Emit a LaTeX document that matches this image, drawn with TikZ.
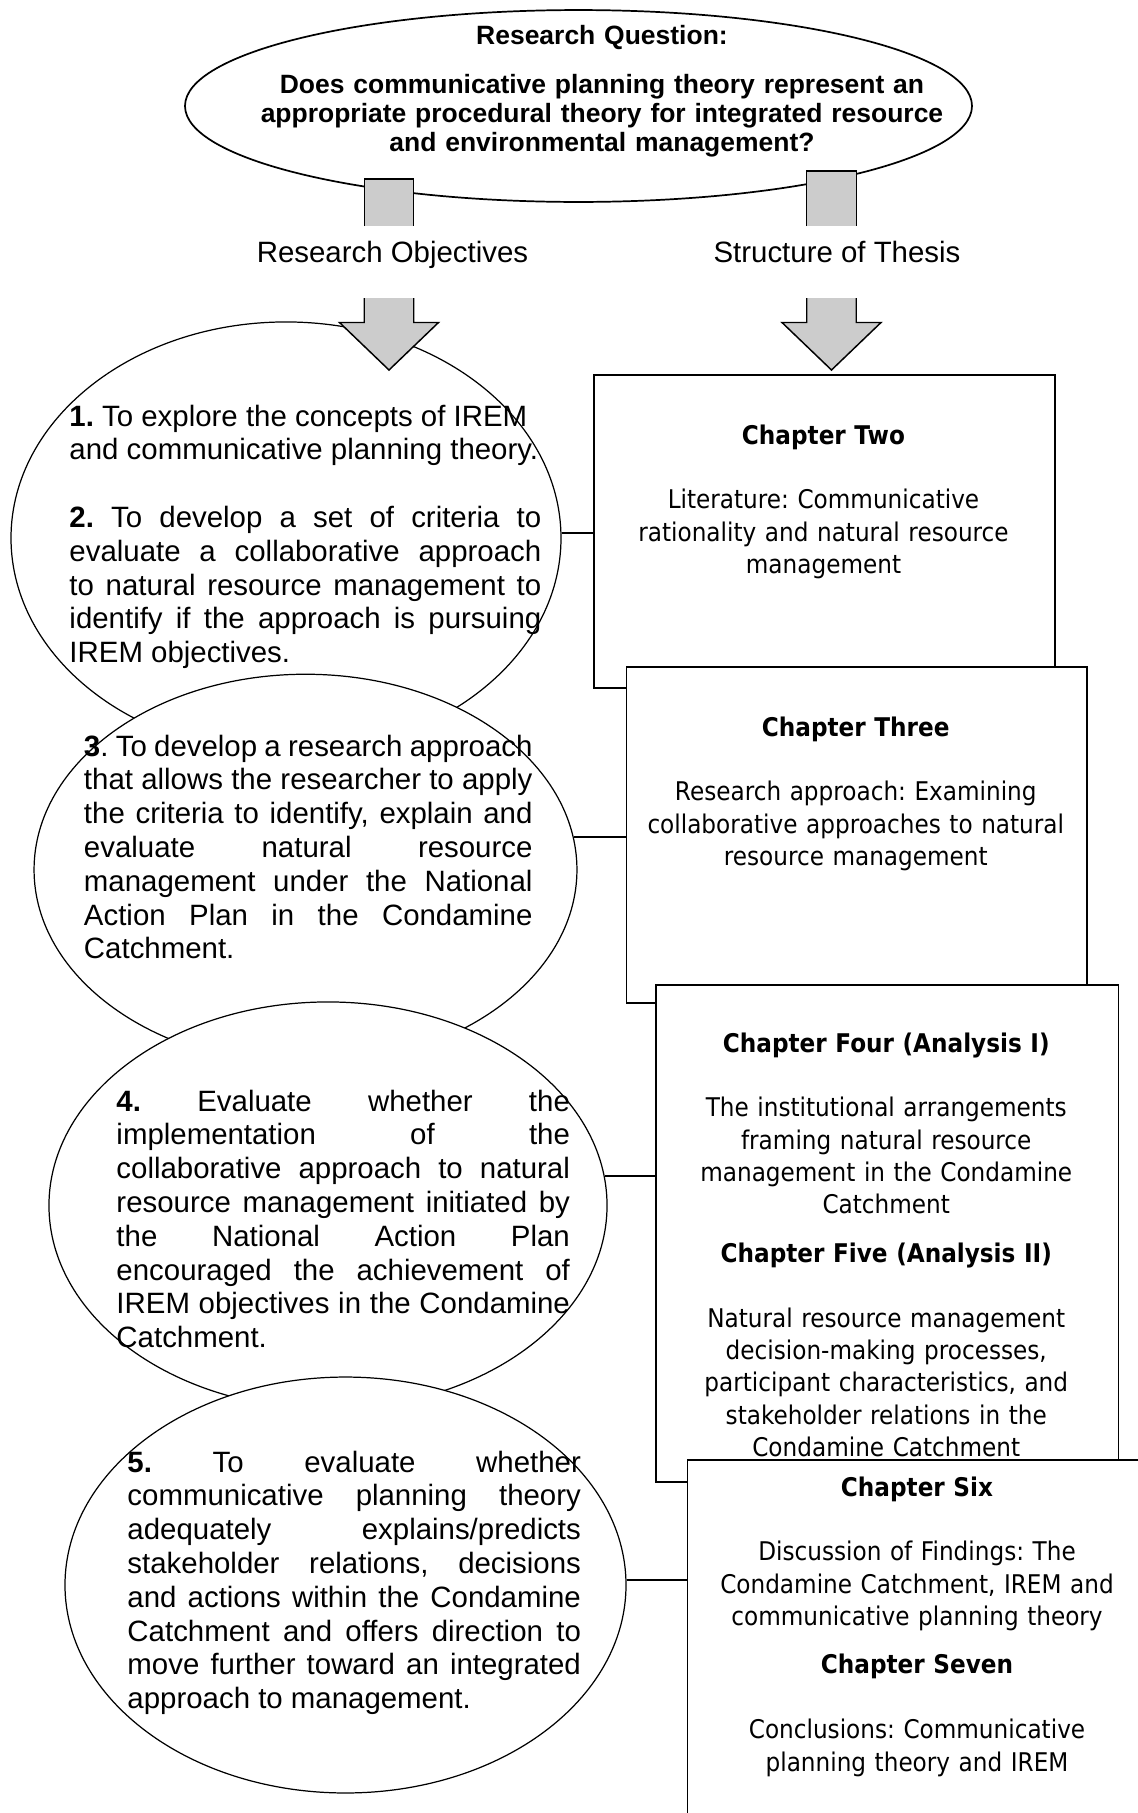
\documentclass[tikz,border=0pt]{standalone}
\usepackage{fontspec}
\setmainfont{Liberation Sans}
\newfontfamily\boxfont{DejaVu Sans}[FakeStretch=0.9]
\usepackage{tikz}
\usetikzlibrary{calc,positioning,shapes.geometric}
\definecolor{arrowgray}{HTML}{CCCCCC}
\frenchspacing
\tikzset{
  qell/.style={ellipse,draw,line width=0.7pt,fill=white,inner sep=0pt},
  objell/.style={ellipse,draw,line width=0.5pt,fill=white,inner sep=0pt},
  objtxt/.style={anchor=base west,inner sep=0pt,align=justify,font=\fontsize{12}{13.8}\selectfont},
  lbl/.style={anchor=base,inner sep=0pt,font=\fontsize{12}{13.8}\selectfont},
  chbox/.style={rectangle,draw,line width=0.7pt,fill=white,anchor=north west,inner sep=0pt},
  chtxt/.style={anchor=base,inner sep=0pt,text width=185pt,align=center,font=\boxfont\fontsize{10.5}{13.2}\selectfont},
  link/.style={line width=0.8pt},
  bigar/.style={fill=arrowgray,draw,line width=0.6pt,line join=miter}
}
\begin{document}
\begin{tikzpicture}[x=0.408pt,y=-0.408pt]
\useasboundingbox (0,0) rectangle (1138,1813);
\clip (0,0) rectangle (1138,1813);
% research question
\node[qell,minimum width=321.1pt,minimum height=78.3pt] (rq) at (578.5,106) {};
\node[anchor=base,inner sep=0pt,text width=290pt,align=center,font=\bfseries\fontsize{10.8}{12}\selectfont] (rqtxt) at (602,44.5)
 {Research Question:\\[7.8pt] Does communicative planning theory represent an\\ appropriate procedural theory for integrated resource\\ and environmental management?};
% objectives
\node[objell,minimum width=224.4pt,minimum height=176.3pt] (obj1) at (286,538) {};
\node[objtxt,text width=192.5pt] (obj1txt) at (69,426)
 {\textbf{1.} To explore the concepts of IREM\\ and communicative planning theory.\\[13.8pt]
  \textbf{2.} To develop a set of criteria to\linebreak evaluate a collaborative approach\linebreak to natural resource management to\linebreak identify if the approach is pursuing\linebreak IREM objectives.};
\node[objell,minimum width=221.5pt,minimum height=159.5pt] (obj2) at (305.5,869.7) {};
\node[objtxt,text width=183pt] (obj2txt) at (83.5,756)
 {\textbf{3}. To develop a research approach\linebreak that allows the researcher to apply\linebreak the criteria to identify, explain and\linebreak evaluate natural resource\linebreak management under the National\linebreak Action Plan in the Condamine\linebreak Catchment.};
\node[objell,minimum width=227.7pt,minimum height=166.1pt] (obj3) at (328,1205.5) {};
\node[objtxt,text width=185pt] (obj3txt) at (116,1111)
 {\textbf{4.} Evaluate whether the\linebreak implementation of the\linebreak collaborative approach to natural\linebreak resource management initiated by\linebreak the National Action Plan\linebreak encouraged the achievement of\linebreak IREM objectives in the Condamine\linebreak Catchment.};
\node[objell,minimum width=228.9pt,minimum height=169.7pt] (obj4) at (345.5,1585) {};
\node[objtxt,text width=185pt] (obj4txt) at (127,1472)
 {\textbf{5.} To evaluate whether\linebreak communicative planning theory\linebreak adequately explains/predicts\linebreak stakeholder relations, decisions\linebreak and actions within the Condamine\linebreak Catchment and offers direction to\linebreak move further toward an integrated\linebreak approach to management.};
% chapters
\node[chbox,minimum width=188.1pt,minimum height=127.7pt] (ch2) at (593,374) {};
\node[chtxt] (ch2txt) at (823.5,444) {\textbf{Chapter Two}\\[13.2pt] Literature: Communicative\\ rationality and natural resource\\ management};
\node[chbox,minimum width=187.9pt,minimum height=137.1pt] (ch3) at (625.5,666) {};
\node[chtxt] (ch3txt) at (855.75,736) {\textbf{Chapter Three}\\[13.2pt] Research approach: Examining\\ collaborative approaches to natural\\ resource management};
\node[chbox,minimum width=188.7pt,minimum height=202.8pt] (ch4) at (655,984) {};
\node[chtxt] (ch4txt) at (886.25,1052) {\textbf{Chapter Four (Analysis I)}\\[13.2pt] The institutional arrangements\\ framing natural resource\\ management in the Condamine\\ Catchment\\[6.6pt]
 \textbf{Chapter Five (Analysis II)}\\[13.2pt] Natural resource management\\ decision-making processes,\\ participant characteristics, and\\ stakeholder relations in the\\ Condamine Catchment};
\node[chbox,minimum width=188.1pt,minimum height=160pt] (ch6) at (686.5,1459) {};
\node[chtxt] (ch6txt) at (917,1496) {\textbf{Chapter Six}\\[13.2pt] Discussion of Findings: The\\ Condamine Catchment, IREM and\\ communicative planning theory\\[6.6pt]
 \textbf{Chapter Seven}\\[13.2pt] Conclusions: Communicative\\ planning theory and IREM};
% links
\draw[link] (obj1.1) -- (obj1.1 -| ch2.west);
\draw[link] (obj2.7) -- (obj2.7 -| ch3.west);
\draw[link] (obj3.6) -- (obj3.6 -| ch4.west);
\draw[link] (obj4.1) -- (obj4.1 -| ch6.west);
% block arrows
\foreach \x/\t in {389/179,831.5/171}{
 \filldraw[bigar] (\x-24.75,226) -- (\x-24.75,\t) -- (\x+24.75,\t) -- (\x+24.75,226);
 \filldraw[bigar] (\x-24.75,298) -- (\x-24.75,322.5) -- (\x-49.5,322.5) -- (\x,370) -- (\x+49.5,322.5) -- (\x+24.75,322.5) -- (\x+24.75,298);}
\node[lbl] (robj) at (392.5,262) {Research Objectives};
\node[lbl] (sthe) at (837,262) {Structure of Thesis};
\end{tikzpicture}
\end{document}
